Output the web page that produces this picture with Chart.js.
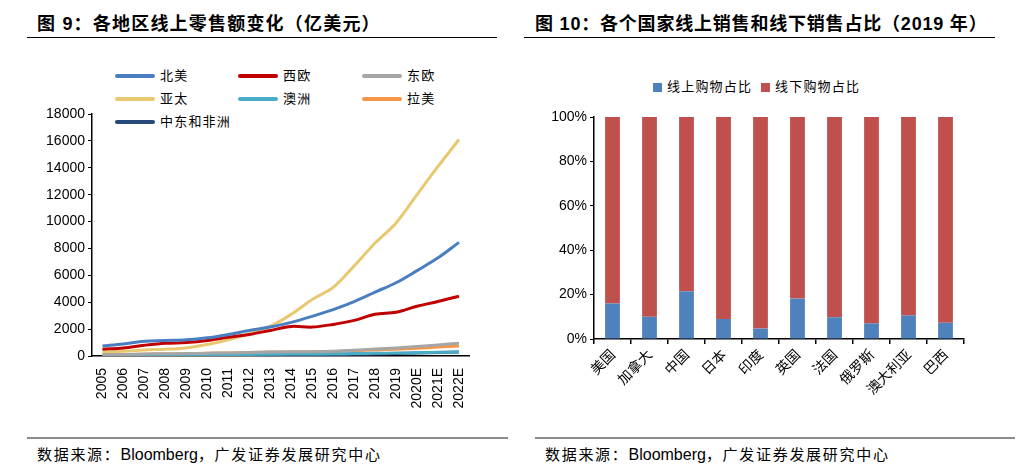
<!DOCTYPE html>
<html>
<head>
<meta charset="utf-8">
<script src="https://cdn.jsdelivr.net/npm/chart.js@4"></script>
<style>
  html, body { margin: 0; padding: 0; background: #fff; }
  body { width: 1024px; height: 471px; position: relative; overflow: hidden;
         font-family: Arial, "Liberation Sans", "Noto Sans CJK SC", sans-serif; color: #000; }
  .title { position: absolute; top: 9px; font-size: 18px; font-weight: bold; white-space: nowrap;
           font-family: Arial, "Liberation Sans", "Noto Sans CJK SC", sans-serif; }
  .rule { position: absolute; height: 1px; background: #000; }
  .foot-rule { position: absolute; height: 2px; background: #8c8c8c; top: 437px; }
  .source { position: absolute; top: 443px; font-size: 15px; letter-spacing: 1.7px; white-space: nowrap; }
  .source span { font-size: 16px; letter-spacing: 0; font-family: Arial, "Liberation Sans", sans-serif; }
  .box { position: absolute; }
  .legend-item { position: absolute; font-size: 13px; letter-spacing: 1.2px; white-space: nowrap;
                 font-family: "Noto Sans CJK SC", sans-serif; line-height: 16px; }
  .legend-item i { display: inline-block; vertical-align: middle; margin-right: 5px; }
</style>
</head>
<body>
<div class="title" style="left:37px; letter-spacing:1.2px">图 9：各地区线上零售额变化（亿美元）</div>
<div class="rule" style="left:27px; width:470px; top:37px"></div>
<div class="title" style="left:535px; letter-spacing:0.8px">图 10：各个国家线上销售和线下销售占比（2019 年）</div>
<div class="rule" style="left:524px; width:471px; top:37px"></div>

<div id="legend-left"></div>
<div id="legend-right"></div>

<div class="box" style="left:30px; top:100px; width:450px; height:310px"><canvas id="left-chart"></canvas></div>
<div class="box" style="left:545px; top:100px; width:430px; height:320px"><canvas id="right-chart"></canvas></div>

<div class="foot-rule" style="left:27px; width:481px"></div>
<div class="foot-rule" style="left:535px; width:480px"></div>
<div class="source" style="left:37px">数据来源：<span>Bloomberg</span>，广发证券发展研究中心</div>
<div class="source" style="left:545px">数据来源：<span>Bloomberg</span>，广发证券发展研究中心</div>

<script>
// Figure 9: online retail sales by region (100m USD)
var years = ['2005', '2006', '2007', '2008', '2009', '2010', '2011', '2012', '2013',
  '2014', '2015', '2016', '2017', '2018', '2019', '2020E', '2021E', '2022E'];
var northAmerica = [750, 900, 1100, 1150, 1200, 1350, 1600, 1900, 2150, 2500, 2950, 3450, 4050, 4750, 5450, 6350, 7300, 8450];
var westEurope = [500, 600, 800, 950, 1000, 1150, 1400, 1600, 1900, 2200, 2150, 2350, 2650, 3100, 3250, 3700, 4050, 4450];
var eastEurope = [100, 120, 150, 170, 180, 200, 230, 260, 290, 310, 320, 360, 430, 520, 600, 700, 820, 950];
var asiaPacific = [300, 350, 450, 500, 600, 850, 1200, 1650, 2200, 3100, 4200, 5100, 6700, 8400, 9900, 12000, 14100, 16100];
var australia = [50, 60, 70, 80, 90, 100, 110, 120, 130, 140, 150, 160, 180, 200, 220, 240, 270, 300];
var latinAmerica = [80, 100, 130, 150, 170, 200, 230, 260, 290, 300, 300, 330, 390, 450, 510, 580, 660, 750];
var middleEastAfrica = [20, 25, 30, 35, 40, 50, 60, 70, 80, 90, 100, 110, 130, 150, 180, 220, 260, 300];
var leftTicks = [0, 2000, 4000, 6000, 8000, 10000, 12000, 14000, 16000, 18000];

// Figure 10: online vs offline share by country, 2019 (%)
var countries = ['美国', '加拿大', '中国', '日本', '印度', '英国', '法国', '俄罗斯', '澳大利亚', '巴西'];
var onlineShare = [16, 10, 21.5, 9, 4.7, 18.2, 9.8, 7, 10.6, 7.3];
var offlineShare = onlineShare.map(function (v) { return 100 - v; });
var rightTicks = [0, 20, 40, 60, 80, 100];

var FONT = 'Arial, "Liberation Sans", "Noto Sans CJK SC", sans-serif';
var CJK = '"Noto Sans CJK SC", sans-serif';

(function () {
  var lineSeries = [
    { label: '北美', data: northAmerica, color: '#4a7ec0' },
    { label: '西欧', data: westEurope, color: '#c00000' },
    { label: '东欧', data: eastEurope, color: '#a6a6a6' },
    { label: '亚太', data: asiaPacific, color: '#e8c870' },
    { label: '澳洲', data: australia, color: '#4bacc6' },
    { label: '拉美', data: latinAmerica, color: '#f79646' },
    { label: '中东和非洲', data: middleEastAfrica, color: '#254a7a' }
  ];

  // legend for fig 9: three columns, built from the series list
  var legendLeft = document.getElementById('legend-left');
  var colX = [115, 238, 362];
  var rowY = [67, 90, 113];
  lineSeries.forEach(function (s, i) {
    var el = document.createElement('div');
    el.className = 'legend-item';
    el.style.left = colX[i % 3] + 'px';
    el.style.top = rowY[Math.floor(i / 3)] + 'px';
    el.innerHTML = '<i style="width:40px;height:4px;border-radius:2px;background:' + s.color + '"></i>' + s.label;
    legendLeft.appendChild(el);
  });

  new Chart(document.getElementById('left-chart'), {
    type: 'line',
    data: {
      labels: years,
      datasets: lineSeries.map(function (s) {
        return {
          label: s.label,
          data: s.data,
          borderColor: s.color,
          backgroundColor: s.color,
          borderWidth: 3,
          pointRadius: 0,
          tension: 0.35,
          fill: false
        };
      })
    },
    options: {
      responsive: true,
      maintainAspectRatio: false,
      animation: false,
      layout: { padding: { top: 14, right: 8, left: 0, bottom: 0 } },
      plugins: { legend: { display: false }, tooltip: { enabled: false } },
      scales: {
        x: {
          offset: true,
          grid: { display: false },
          border: { display: true, color: '#000', width: 1.5 },
          ticks: { color: '#000', font: { family: FONT, size: 14 }, minRotation: 90, maxRotation: 90, autoSkip: false, padding: 4 },
          afterFit: function (scale) { scale.height = 54; }
        },
        y: {
          min: leftTicks[0],
          max: leftTicks[leftTicks.length - 1],
          grid: { drawOnChartArea: false, color: '#000', tickLength: 4 },
          border: { display: true, color: '#000', width: 1.5 },
          ticks: { stepSize: leftTicks[1] - leftTicks[0], color: '#000', font: { family: FONT, size: 14 }, padding: 3,
            callback: function (v) { return String(v); } },
          afterFit: function (scale) { scale.width = 62; }
        }
      }
    }
  });

  // legend for fig 10
  var legendRight = document.getElementById('legend-right');
  var barSeries = [
    { label: '线上购物占比', color: '#4f81bd' },
    { label: '线下购物占比', color: '#c0504d' }
  ];
  barSeries.forEach(function (s, i) {
    var el = document.createElement('div');
    el.className = 'legend-item';
    el.style.left = (653 + i * 108) + 'px';
    el.style.top = '78px';
    el.innerHTML = '<i style="width:9px;height:9px;background:' + s.color + '"></i>' + s.label;
    legendRight.appendChild(el);
  });

  new Chart(document.getElementById('right-chart'), {
    type: 'bar',
    data: {
      labels: countries,
      datasets: [
        { label: barSeries[0].label, data: onlineShare, backgroundColor: barSeries[0].color, barPercentage: 0.4, categoryPercentage: 1 },
        { label: barSeries[1].label, data: offlineShare, backgroundColor: barSeries[1].color, barPercentage: 0.4, categoryPercentage: 1 }
      ]
    },
    options: {
      responsive: true,
      maintainAspectRatio: false,
      animation: false,
      layout: { padding: { top: 17, right: 11, left: 0, bottom: 0 } },
      plugins: { legend: { display: false }, tooltip: { enabled: false } },
      scales: {
        x: {
          stacked: true,
          grid: { drawOnChartArea: false, color: '#000', tickLength: 5, lineWidth: 1.5 },
          border: { display: true, color: '#000', width: 1.5 },
          ticks: { color: '#000', font: { family: CJK, size: 14 }, minRotation: 45, maxRotation: 45, autoSkip: false, padding: 2 },
          afterFit: function (scale) { scale.height = 81; }
        },
        y: {
          stacked: true,
          min: rightTicks[0],
          max: rightTicks[rightTicks.length - 1],
          grid: { drawOnChartArea: false, color: '#000', tickLength: 4 },
          border: { display: true, color: '#000', width: 1.5 },
          ticks: { stepSize: rightTicks[1] - rightTicks[0], color: '#000', font: { family: FONT, size: 14 }, padding: 3,
            callback: function (v) { return v + '%'; } },
          afterFit: function (scale) { scale.width = 49; }
        }
      }
    }
  });
})();
</script>
</body>
</html>
